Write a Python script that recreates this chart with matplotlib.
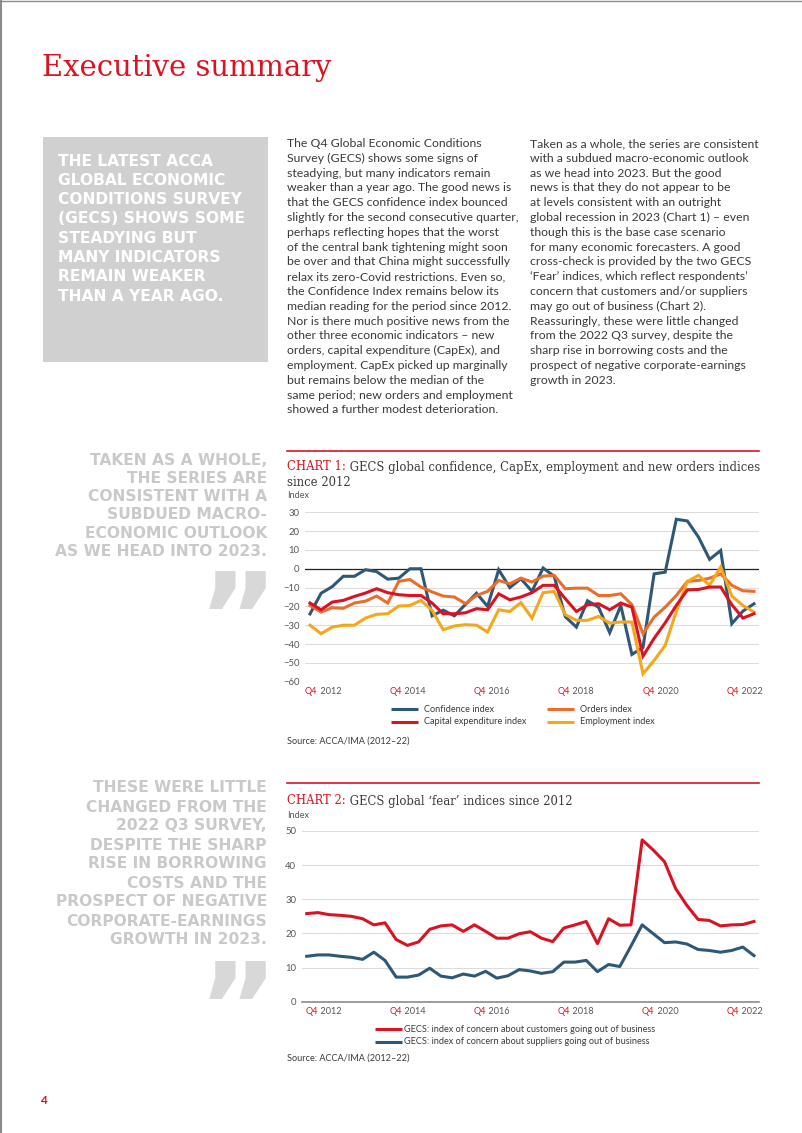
#!/usr/bin/env python3
"""Executive summary page: GECS confidence and 'fear' index charts."""

import matplotlib

matplotlib.use("Agg")
import matplotlib.pyplot as plt
from matplotlib.lines import Line2D
from matplotlib.patches import Rectangle
import numpy as np

W, H = 802, 1133

RED = "#DA1222"
BLUE = "#2F5876"
ORANGE = "#EA6D2C"
AMBER = "#F5A71B"
TEXT = "#3A3A3A"
TICK = "#555555"
GRID = "#DCDCDC"
QUOTE_GRAY = "#C9C9C9"

SANS = ["Lato", "DejaVu Sans"]
CAPS = ["DejaVu Sans"]
SERIF = ["DejaVu Serif"]

# quarterly series, Q4 2012 .. Q4 2022
confidence = [-24, -13, -9.5, -4, -4, -0.5, -1.5, -5.5, -5, 0, 0, -25, -22, -25, -19, -13, -20,
              -0.5, -10, -5.3, -12, 0.4, -4, -25.5, -31, -17, -20.5, -34, -19.5, -45.5, -41.8,
              -2.7, -1.8, 26.3, 25.4, 16.8, 5, 9.7, -29.2, -22.5, -18.6]
orders = [-19.5, -23, -20.7, -21, -18.2, -17.2, -14.5, -18.2, -6.7, -5.7, -9.7, -12.3, -14.5,
          -15, -18.5, -14.2, -12, -6.2, -8, -5, -7, -3.9, -3.5, -10.6, -10.3, -10.3, -14.2,
          -14.2, -13.3, -19.1, -34.5, -25.7, -20.4, -14.2, -6.7, -6.2, -5, -2.7, -8.8, -11.7, -12]
capex = [-18.2, -21.8, -17.7, -16.8, -14.7, -12.9, -10.6, -12.7, -13.8, -14.2, -14.2, -18.2,
         -23.9, -23.9, -23.4, -21.2, -21.8, -13.3, -16.5, -15, -12.7, -8.8, -8.8, -15.9, -22.7,
         -19.1, -18.6, -21.8, -18.2, -20.4, -46.4, -37, -28.7, -19.5, -11.2, -11, -9.7, -9.7,
         -19.1, -26.2, -23.9]
employment = [-30, -34.5, -31, -30, -30, -26.2, -24.2, -23.9, -19.8, -19.5, -16.8, -22.1, -32.4,
              -30.4, -29.7, -30, -33.6, -21.8, -22.7, -18, -26.2, -12.7, -12, -24.4, -27.4,
              -27.4, -25.3, -28.9, -28.3, -28.3, -55.8, -48.7, -40.7, -22.7, -6.7, -3.5, -8.8,
              1, -14.5, -19.5, -23]

fear_customers = [25.8, 26.1, 25.5, 25.3, 25, 24.3, 22.5, 23.1, 18.2, 16.5, 17.5, 21.2, 22.2,
                  22.5, 20.6, 22.5, 20.6, 18.6, 18.6, 19.9, 20.5, 18.6, 17.6, 21.6, 22.5, 23.5,
                  17, 24.3, 22.4, 22.5, 47.4, 44.4, 41, 33.1, 28.2, 24.1, 23.8, 22.2, 22.5,
                  22.6, 23.5]
fear_suppliers = [13.3, 13.7, 13.7, 13.3, 13, 12.4, 14.5, 12.1, 7.2, 7.2, 7.8, 9.8, 7.5, 7,
                  8.1, 7.5, 8.9, 6.9, 7.6, 9.4, 9, 8.3, 8.8, 11.6, 11.6, 12.1, 8.8, 10.9, 10.3,
                  16.3, 22.5, 19.9, 17.3, 17.5, 16.9, 15.3, 15, 14.5, 15, 16, 13.5]

tick_years = ["2012", "2014", "2016", "2018", "2020", "2022"]

chart1_labels = ["Confidence index", "Capital expenditure index", "Orders index", "Employment index"]
chart2_labels = ["GECS: index of concern about customers going out of business",
                 "GECS: index of concern about suppliers going out of business"]

box_lines = ["THE LATEST ACCA", "GLOBAL ECONOMIC", "CONDITIONS SURVEY", "(GECS) SHOWS SOME",
             "STEADYING BUT", "MANY INDICATORS", "REMAIN WEAKER", "THAN A YEAR AGO."]
quote1_lines = ["TAKEN AS A WHOLE,", "THE SERIES ARE", "CONSISTENT WITH A", "SUBDUED MACRO-",
                "ECONOMIC OUTLOOK", "AS WE HEAD INTO 2023."]
quote2_lines = ["THESE WERE LITTLE", "CHANGED FROM THE", "2022 Q3 SURVEY,", "DESPITE THE SHARP",
                "RISE IN BORROWING", "COSTS AND THE", "PROSPECT OF NEGATIVE",
                "CORPORATE-EARNINGS", "GROWTH IN 2023."]

col1_lines = [
    "The Q4 Global Economic Conditions",
    "Survey (GECS) shows some signs of",
    "steadying, but many indicators remain",
    "weaker than a year ago. The good news is",
    "that the GECS confidence index bounced",
    "slightly for the second consecutive quarter,",
    "perhaps reflecting hopes that the worst",
    "of the central bank tightening might soon",
    "be over and that China might successfully",
    "relax its zero-Covid restrictions. Even so,",
    "the Confidence Index remains below its",
    "median reading for the period since 2012.",
    "Nor is there much positive news from the",
    "other three economic indicators \u2013 new",
    "orders, capital expenditure (CapEx), and",
    "employment. CapEx picked up marginally",
    "but remains below the median of the",
    "same period; new orders and employment",
    "showed a further modest deterioration.",
]
col2_lines = [
    "Taken as a whole, the series are consistent",
    "with a subdued macro-economic outlook",
    "as we head into 2023. But the good",
    "news is that they do not appear to be",
    "at levels consistent with an outright",
    "global recession in 2023 (Chart 1) \u2013 even",
    "though this is the base case scenario",
    "for many economic forecasters. A good",
    "cross-check is provided by the two GECS",
    "\u2018Fear\u2019 indices, which reflect respondents\u2019",
    "concern that customers and/or suppliers",
    "may go out of business (Chart 2).",
    "Reassuringly, these were little changed",
    "from the 2022 Q3 survey, despite the",
    "sharp rise in borrowing costs and the",
    "prospect of negative corporate-earnings",
    "growth in 2023.",
]


def fx(x):
    return x / W


def fy(y):
    return 1 - y / H


def page_text(fig, x, y, s, **kw):
    kw.setdefault("va", "center")
    kw.setdefault("ha", "left")
    return fig.text(fx(x), fy(y), s, **kw)


def page_line(fig, x0, x1, y0, y1, **kw):
    fig.add_artist(Line2D([fx(x0), fx(x1)], [fy(y0), fy(y1)], transform=fig.transFigure, **kw))


def text_block(fig, x, y0, step, lines, **kw):
    for i, line in enumerate(lines):
        page_text(fig, x, y0 + i * step, line, **kw)


def two_tone(fig, x, y, first, rest, c1, c2, **kw):
    t = page_text(fig, x, y, first, color=c1, **kw)
    kw.pop("va", None)
    fig.add_artist(plt.Annotation(rest, xy=(1, 0.5), xycoords=t, va="center", ha="left",
                                  color=c2, **kw))
    return t


def quarter_labels(ax, positions, years, offset):
    trans = ax.get_xaxis_transform()
    for pos, year in zip(positions, years):
        t = ax.annotate("Q4", xy=(pos, 0), xycoords=trans, xytext=(-11.9, -offset),
                        textcoords="offset points", ha="left", va="center", color=RED,
                        fontsize=6.6, family=SANS, annotation_clip=False)
        ax.annotate(" " + year, xy=(1, 0.5), xycoords=t, ha="left", va="center",
                    color=TICK, fontsize=6.6, family=SANS, annotation_clip=False)


def style_axes(ax, ylim, step):
    ax.set_ylim(*ylim)
    ax.set_xlim(-0.45, 40.45)
    ax.set_yticks(np.arange(ylim[0], ylim[1] + 1, step))
    ax.set_xticks([])
    ax.tick_params(axis="y", length=0, pad=4, labelsize=6.8, labelcolor=TICK)
    for label in ax.get_yticklabels():
        label.set_family(SANS)
    ax.grid(axis="y", color=GRID, linewidth=0.8)
    ax.set_axisbelow(True)
    for spine in ax.spines.values():
        spine.set_visible(False)


def page_legend(fig, items, handle_x, text_x, y, fontsize):
    for (label, color), hx, tx, yy in zip(items, handle_x, text_x, y):
        page_line(fig, hx, hx + 27, yy, yy, color=color, linewidth=2.2, solid_capstyle="butt")
        page_text(fig, tx, yy, label, color=TEXT, fontsize=fontsize, family=SANS)


def main():
    fig = plt.figure(figsize=(W / 100, H / 100), dpi=100)
    fig.patch.set_facecolor("white")

    # page frame
    page_line(fig, 0, W, 0.5, 0.5, color="#8A8A8A", linewidth=1.0)
    page_line(fig, 0.8, 0.8, 0, H, color="#8A8A8A", linewidth=1.5)

    page_text(fig, 42, 68, "Executive summary", color=RED, fontsize=20.9, family=SERIF)

    # intro box
    fig.add_artist(Rectangle((fx(43), fy(362)), fx(268) - fx(43), fy(137) - fy(362),
                             transform=fig.transFigure, facecolor="#D0D0D0", edgecolor="none"))
    text_block(fig, 58, 161, 19.3, box_lines, color="white", fontsize=11.2, family=CAPS,
               fontweight="bold")

    text_block(fig, 287, 143.5, 14.8, col1_lines, color=TEXT, fontsize=8.8, family=SANS)
    text_block(fig, 530, 143.5, 14.8, col2_lines, color=TEXT, fontsize=8.8, family=SANS)

    # pull quotes
    text_block(fig, 267, 460, 18.3, quote1_lines, color=QUOTE_GRAY, fontsize=11.2, family=CAPS,
               fontweight="bold", ha="right")
    page_text(fig, 278, 568, "\u201d", color="#D8D8D8", fontsize=88, family=["DejaVu Sans"],
              fontweight="bold", ha="right", va="top")
    text_block(fig, 267, 788, 19.0, quote2_lines, color=QUOTE_GRAY, fontsize=11.2, family=CAPS,
               fontweight="bold", ha="right")
    page_text(fig, 278, 958, "\u201d", color="#D8D8D8", fontsize=88, family=["DejaVu Sans"],
              fontweight="bold", ha="right", va="top")

    x = np.arange(len(confidence))

    # chart 1
    page_line(fig, 287, 759, 451, 451, color=RED, linewidth=1.2)
    two_tone(fig, 287, 467, "CHART 1:", " GECS global confidence, CapEx, employment and new orders indices",
             RED, TEXT, fontsize=8.35, family=SERIF)
    page_text(fig, 287, 482, "since 2012", color=TEXT, fontsize=8.35, family=SERIF)
    page_text(fig, 287, 496, "Index", color=TICK, fontsize=6.6, family=SANS)

    ax1 = fig.add_axes([fx(305), fy(681.7), fx(759) - fx(305), fy(512.3) - fy(681.7)])
    style_axes(ax1, (-60, 30), 10)
    ax1.axhline(0, color="#222222", linewidth=0.9, zorder=1)
    colors1 = [BLUE, RED, ORANGE, AMBER]
    for values, color in zip([confidence, orders, employment, capex], [BLUE, ORANGE, AMBER, RED]):
        ax1.plot(x, values, color=color, linewidth=2.2, solid_joinstyle="miter", clip_on=False,
                 zorder=3)
    quarter_labels(ax1, np.linspace(1.05, 39, len(tick_years)), tick_years, 7.2)
    page_legend(fig, list(zip(chart1_labels, colors1)), [391, 391, 547, 547],
                [424, 424, 580, 580], [709, 721.5, 709, 721.5], 6.6)
    page_text(fig, 287, 741, "Source: ACCA/IMA (2012\u201322)", color=TEXT, fontsize=6.6,
              family=SANS)

    # chart 2
    page_line(fig, 287, 759, 783, 783, color=RED, linewidth=1.2)
    two_tone(fig, 287, 801, "CHART 2:", " GECS global \u2018fear\u2019 indices since 2012", RED,
             TEXT, fontsize=8.35, family=SERIF)
    page_text(fig, 287, 816, "Index", color=TICK, fontsize=6.6, family=SANS)

    ax2 = fig.add_axes([fx(301.7), fy(1001.7), fx(759) - fx(301.7), fy(831) - fy(1001.7)])
    style_axes(ax2, (0, 50), 10)
    ax2.spines["bottom"].set_visible(True)
    ax2.spines["bottom"].set_color("#8C8C8C")
    ax2.spines["bottom"].set_linewidth(1.2)
    ax2.plot(x, fear_customers, color=RED, linewidth=2.2, clip_on=False, zorder=3)
    ax2.plot(x, fear_suppliers, color=BLUE, linewidth=2.2, clip_on=False, zorder=3)
    quarter_labels(ax2, np.linspace(1.35, 39, len(tick_years)), tick_years, 7.2)
    page_legend(fig, list(zip(chart2_labels, [RED, BLUE])), [375, 375], [404, 404],
                [1029, 1042], 6.6)
    page_text(fig, 287, 1058, "Source: ACCA/IMA (2012\u201322)", color=TEXT, fontsize=6.6,
              family=SANS)

    page_text(fig, 40, 1101, "4", color=RED, fontsize=8.5, family=SANS, fontweight="bold")

    fig.savefig("out.png", dpi=100)
    plt.close(fig)


if __name__ == "__main__":
    main()
